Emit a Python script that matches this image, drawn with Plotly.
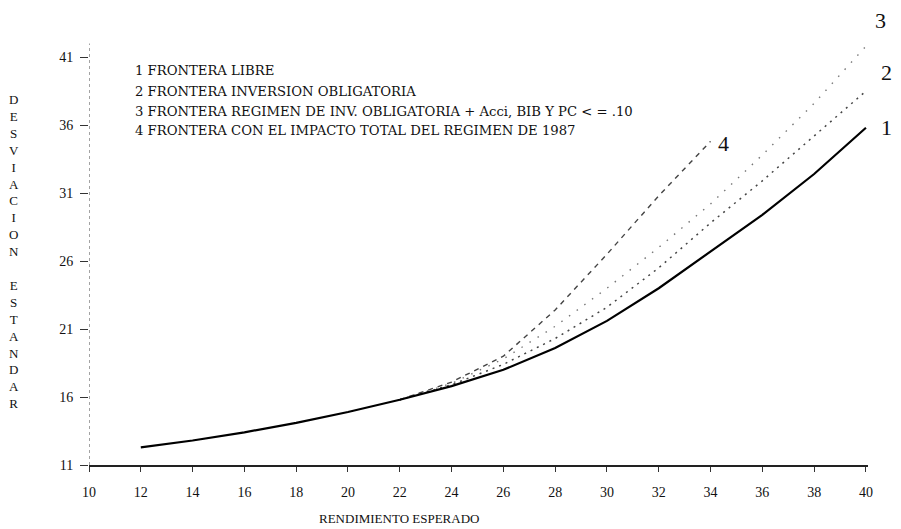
import plotly.graph_objects as go

# ---- data ----
x_all = [12, 14, 16, 18, 20, 22, 24, 26, 28, 30, 32, 34, 36, 38, 40]
frontera_1 = [12.3, 12.8, 13.4, 14.1, 14.9, 15.8, 16.8, 18.0, 19.6, 21.6, 24.0, 26.7, 29.4, 32.4, 35.8]

x_2 = [22, 24, 26, 28, 30, 32, 34, 36, 38, 40]
frontera_2 = [15.8, 16.9, 18.4, 20.3, 22.6, 25.5, 28.8, 31.9, 35.2, 38.5]

x_3 = [22, 24, 26, 28, 30, 32, 34, 36, 38, 40]
frontera_3 = [15.8, 17.0, 18.8, 21.2, 24.0, 27.0, 30.2, 33.8, 37.6, 41.8]

x_4 = [22, 24, 26, 28, 30, 32, 34]
frontera_4 = [15.8, 17.1, 19.0, 22.4, 26.5, 30.8, 34.8]

x_ticks = [10, 12, 14, 16, 18, 20, 22, 24, 26, 28, 30, 32, 34, 36, 38, 40]
y_ticks = [11, 16, 21, 26, 31, 36, 41]

legend_lines = [
    "1 FRONTERA LIBRE",
    "2 FRONTERA INVERSION OBLIGATORIA",
    "3 FRONTERA REGIMEN DE INV. OBLIGATORIA + Acci, BIB Y PC < = .10",
    "4 FRONTERA CON EL IMPACTO TOTAL DEL REGIMEN DE 1987",
]
y_title = "DESVIACION ESTANDAR"
x_title = "RENDIMIENTO ESPERADO"

FONT = "Liberation Serif"
LFONT = "DejaVu Serif"
INK = "#111111"

# plot area in screen pixels (page has an 8px body margin)
PL, PR, PT, PB = 89, 868, 19, 465
def px(xp):
    return (xp - PL) / (PR - PL)
def py(yp):
    return (PB - yp) / (PB - PT)

fig = go.Figure()
fig.add_trace(go.Scatter(x=x_4, y=frontera_4, mode="lines",
                         line=dict(color="#444", width=1.4, dash="5px,5px")))
fig.add_trace(go.Scatter(x=x_3, y=frontera_3, mode="lines",
                         line=dict(color="#777", width=1.4, dash="1.5px,8px")))
fig.add_trace(go.Scatter(x=x_2, y=frontera_2, mode="lines",
                         line=dict(color="#444", width=1.5, dash="2px,5px")))
fig.add_trace(go.Scatter(x=x_all, y=frontera_1, mode="lines",
                         line=dict(color="#000", width=2.2)))

# dotted vertical axis line
fig.add_shape(type="line", xref="x", yref="y", x0=10, x1=10, y0=11, y1=42,
              line=dict(color="#666", width=1.2, dash="dot"))

# legend block
for txt, yp in zip(legend_lines, [70, 91, 111, 131]):
    fig.add_annotation(x=px(133), y=py(yp), xref="paper", yref="paper", text=txt,
                       showarrow=False, xanchor="left", yanchor="middle",
                       font=dict(family=LFONT, size=13.2, color=INK))

# curve end labels
for lab, lx, ly in [("1", 886, 127), ("2", 886, 72), ("3", 880, 20), ("4", 723, 143)]:
    fig.add_annotation(x=px(lx), y=py(ly), xref="paper", yref="paper", text=lab,
                       showarrow=False, xanchor="center", yanchor="middle",
                       font=dict(family=FONT, size=22, color=INK))

# vertical stacked y title
words = y_title.split(" ")
stacked = "<br>".join(list(words[0])) + "<br> <br>" + "<br>".join(list(words[1]))
fig.add_annotation(x=px(14), y=py(251.5), xref="paper", yref="paper", text=stacked,
                   showarrow=False, xanchor="center", yanchor="middle", align="center",
                   font=dict(family=FONT, size=13, color=INK))

fig.add_annotation(x=px(399), y=py(518), xref="paper", yref="paper", text=x_title,
                   showarrow=False, xanchor="center", yanchor="middle",
                   font=dict(family=FONT, size=13, color=INK))

W, H = 901, 529
fig.update_layout(
    width=W, height=H, autosize=False,
    margin=dict(l=PL - 8, r=W + 8 - PR, t=PT - 8, b=H + 8 - PB),
    paper_bgcolor="white", plot_bgcolor="white",
    showlegend=False,
    xaxis=dict(range=[10, 40.08], tickvals=x_ticks, ticktext=[str(v) for v in x_ticks],
               ticks="outside", ticklen=5, tickcolor="#333", tickwidth=1,
               showline=True, linecolor="#222", linewidth=1.5,
               showgrid=False, zeroline=False, ticklabelstandoff=8,
               tickfont=dict(family=FONT, size=14, color=INK)),
    yaxis=dict(range=[11, 43.8], tickvals=y_ticks, ticktext=[str(v) for v in y_ticks],
               ticks="outside", ticklen=8, tickcolor="#333", tickwidth=1.3,
               showline=False, showgrid=False, zeroline=False, ticklabelstandoff=4,
               tickfont=dict(family=FONT, size=14, color=INK)),
)

fig.write_html("out.html")
